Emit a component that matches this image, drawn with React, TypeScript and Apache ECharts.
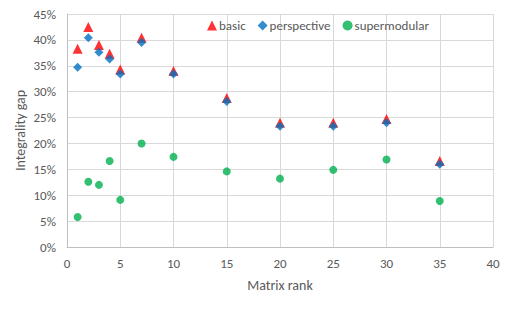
import React, { useEffect, useRef } from "react";
import * as echarts from "echarts";

const ranks = [1, 2, 3, 4, 5, 7, 10, 15, 20, 25, 30, 35];
const basic = [38.3, 42.5, 39.0, 37.3, 34.3, 40.4, 34.0, 28.8, 24.0, 24.0, 24.7, 16.6];
const perspective = [34.7, 40.4, 37.6, 36.3, 33.4, 39.5, 33.4, 28.1, 23.3, 23.3, 24.0, 16.0];
const supermodular = [5.8, 12.6, 12.0, 16.6, 9.1, 20.0, 17.4, 14.6, 13.2, 14.9, 16.9, 8.9];

const xTitle = "Matrix rank";
const yTitle = "Integrality gap";

const FONT = "Carlito, 'Liberation Sans', Arial, sans-serif";
const TXT = "#595959";

function pairs(ys: number[]) {
  return ranks.map((x, i) => [x, ys[i]]);
}

export default function App() {
  const ref = useRef<HTMLDivElement>(null);
  useEffect(() => {
    if (!ref.current) return;
    const chart = echarts.init(ref.current, undefined, { renderer: "svg" });
    chart.setOption({
      animation: false,
      backgroundColor: "#ffffff",
      textStyle: { fontFamily: FONT, color: TXT },
      grid: { left: 67, right: 16, top: 14, bottom: 62, containLabel: false },
      legend: {
        left: 202,
        top: 14,
        itemWidth: 10,
        itemHeight: 10,
        itemGap: 12,
        textStyle: { fontFamily: FONT, fontSize: 13, color: TXT, padding: [0, 0, 0, -3] },
        data: ["basic", "perspective", "supermodular"],
      },
      xAxis: {
        type: "value",
        min: 0,
        max: 40,
        interval: 5,
        name: xTitle,
        nameLocation: "middle",
        nameGap: 31,
        nameMoveOverlap: false,
        nameTextStyle: { fontFamily: FONT, fontSize: 14, color: TXT },
        axisLine: { show: true, lineStyle: { color: "#bfbfbf", width: 1 } },
        axisTick: { show: false },
        axisLabel: { fontFamily: FONT, fontSize: 13, color: TXT, margin: 10 },
        splitLine: { show: true, lineStyle: { color: "#d9d9d9", width: 1 } },
      },
      yAxis: {
        type: "value",
        min: 0,
        max: 45,
        interval: 5,
        name: yTitle,
        nameLocation: "middle",
        nameGap: 40,
        nameMoveOverlap: false,
        nameTextStyle: { fontFamily: FONT, fontSize: 14, color: TXT },
        axisLine: { show: true, lineStyle: { color: "#bfbfbf", width: 1 } },
        axisTick: { show: false },
        axisLabel: { fontFamily: FONT, fontSize: 13, color: TXT, margin: 11, formatter: "{value}%" },
        splitLine: { show: true, lineStyle: { color: "#d9d9d9", width: 1 } },
      },
      series: [
        {
          name: "basic",
          type: "scatter",
          symbol: "triangle",
          symbolSize: 10,
          itemStyle: { color: "#ff0000" },
          data: pairs(basic),
        },
        {
          name: "perspective",
          type: "scatter",
          symbol: "diamond",
          symbolSize: 9,
          itemStyle: { color: "#0070c0" },
          data: pairs(perspective),
        },
        {
          name: "supermodular",
          type: "scatter",
          symbol: "circle",
          symbolSize: 8,
          itemStyle: { color: "#00b050" },
          data: pairs(supermodular),
        },
      ],
    });
    return () => chart.dispose();
  }, []);
  return (
    <div
      ref={ref}
      style={{ position: "fixed", left: 0, top: 0, width: 509, height: 309, background: "#fff" }}
    />
  );
}
